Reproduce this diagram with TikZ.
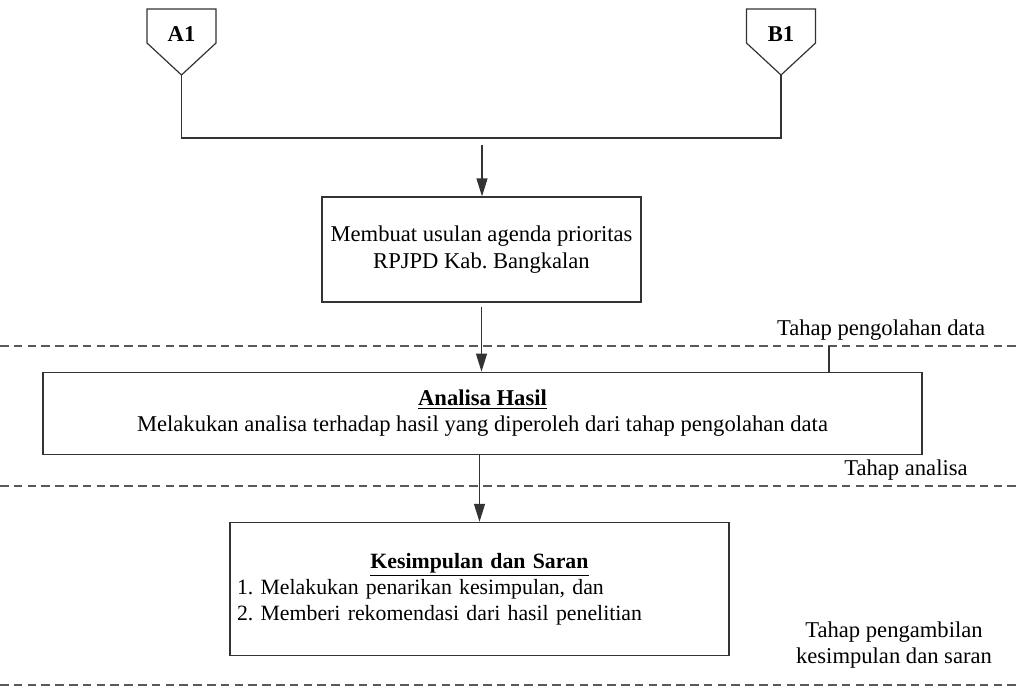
\documentclass[tikz,border=0pt]{standalone}
\usepackage{fontspec}
\setmainfont{Liberation Serif}
\usetikzlibrary{arrows.meta, positioning}
\setlength{\parindent}{0pt}
\frenchspacing

\begin{document}
\begin{tikzpicture}[x=0.5pt, y=-0.5pt, >={Triangle[length=9pt, width=5.5pt]}, node distance=34pt,
    font=\fontsize{11.3}{13.3}\selectfont,
    flow/.style={draw=black!80, line width=0.6pt},
    process/.style={flow, rectangle, align=center, inner sep=0pt},
    offpage/.style={font=\fontsize{11.3}{13.3}\selectfont\bfseries, inner sep=0pt},
    separator/.style={draw=black!65, line width=0.6pt, dash pattern=on 4.3pt off 2.6pt},
    phase/.style={align=center, inner sep=0pt}]

    \useasboundingbox (0,0) rectangle (1017,687);

    %define the off page connectors
    \node[offpage] (a1) at (181.5,34) {A1};
    \node[offpage] (b1) at (781,34) {B1};
    \draw[flow, shift={(a1)}] (-34.5,-25) -- (34.5,-25) -- (34.5,9)
        -- (0,41) coordinate (a1tip) -- (-34.5,9) -- cycle;
    \draw[flow, shift={(b1)}] (-34.5,-25) -- (34.5,-25) -- (34.5,9)
        -- (0,41) coordinate (b1tip) -- (-34.5,9) -- cycle;

    %define the process boxes
    \node[process, minimum width=159.5pt, minimum height=52.5pt] (box1) at (481.5,249.5)
        {Membuat usulan agenda prioritas\\RPJPD Kab. Bangkalan};
    \node[process, minimum width=439.5pt, minimum height=41pt] (box2) [below=34.5pt of box1.south, anchor=north, xshift=0.5pt]
        {\textbf{\underline{Analisa Hasil}}\\Melakukan analisa terhadap hasil yang diperoleh dari tahap pengolahan data};
    \node[flow, rectangle, text width=242.5pt, inner xsep=3.5pt, inner ysep=0pt, minimum height=66.5pt,
        font=\fontsize{10.9}{13}\selectfont] (box3)
        [below=33.5pt of box2.south, anchor=north, xshift=-1.5pt]
        {{\centering\textbf{\underline{Kesimpulan dan Saran}}\par}
         \raggedright
         1. Melakukan penarikan kesimpulan, dan\\
         2. Memberi rekomendasi dari hasil penelitian\par};

    %define the phase separators
    \foreach \y in {346,486,685}
        \draw[separator] (0,\y) -- (1017,\y);
    \node[phase] (phase1) at (881,330) {Tahap pengolahan data};
    \node[phase] (phase2) at (906,470) {Tahap analisa};
    \node[phase] (phase3) at (894,645) {Tahap pengambilan\\kesimpulan dan saran};
    \coordinate (tick) at (829,346);
    \draw[flow] (tick) -- (tick |- box2.north);

    %define the link
    \coordinate (merge) at (482,138);
    \draw[flow] (a1tip) |- (merge) -| (b1tip);
    \draw[flow, ->, shorten <=3.5pt] (merge) -- (merge |- box1.north);
    \draw[flow, ->, shorten <=2pt] (box1.south) -- (box1.south |- box2.north);
    \draw[flow, ->] (box3.north |- box2.south) -- (box3.north);
\end{tikzpicture}
\end{document}
